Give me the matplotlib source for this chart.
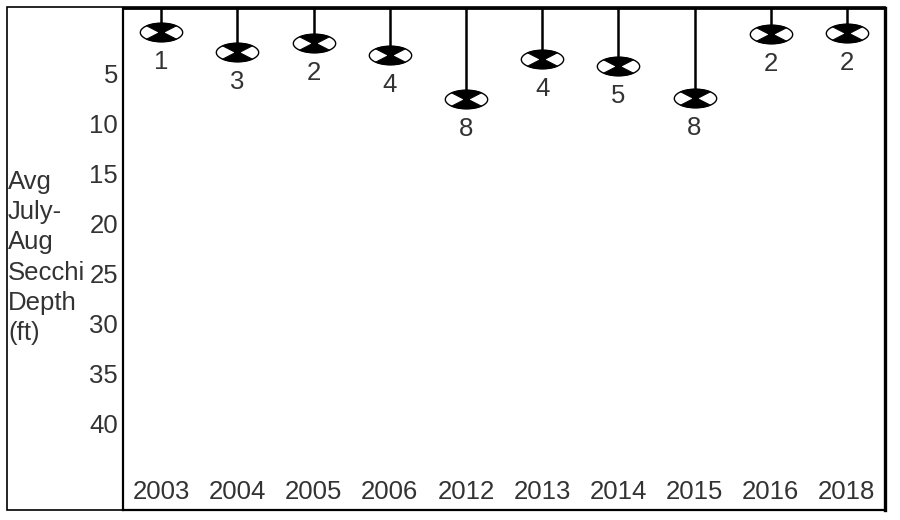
import numpy as np
import matplotlib
matplotlib.use("Agg")
import matplotlib.pyplot as plt
from matplotlib.path import Path
from matplotlib.patches import Rectangle

plt.rcParams['font.family'] = ['Liberation Sans', 'DejaVu Sans']

# data
years = ['2003', '2004', '2005', '2006', '2012', '2013', '2014', '2015', '2016', '2018']
depth = [0.85, 2.85, 1.95, 3.15, 7.55, 3.55, 4.25, 7.45, 1.1, 0.95]
depth_labels = ['1', '3', '2', '4', '8', '4', '5', '8', '2', '2']
yticks = [5, 10, 15, 20, 25, 30, 35, 40]

txt = '#333333'
fs = 18.5

# secchi disk marker: white ellipse + black top/bottom sectors
ry = 0.44
t = np.linspace(0, 2 * np.pi, 73)
ell = Path(np.column_stack([np.cos(t), ry * np.sin(t)]), closed=True)

def sector(a0, a1, waist=0.1):
    a = np.radians(np.linspace(a0, a1, 20))
    v = np.column_stack([np.cos(a), ry * np.sin(a)])
    s = np.sign(np.sin(a[10]))
    return np.vstack([[waist * s, 0], v, [-waist * s, 0], [waist * s, 0]])

v1 = sector(45, 135)
v2 = sector(225, 315)
verts = np.vstack([v1, v2])
codes = ([Path.MOVETO] + [Path.LINETO] * (len(v1) - 2) + [Path.CLOSEPOLY]) * 2
hourglass = Path(verts, codes)
ms = 30.5
ms_h = ms * np.max(np.abs(verts))

fig = plt.figure(figsize=(9, 5.2), dpi=100)
ax = fig.add_axes([123 / 900, 1 - 510 / 520, 762 / 900, 502 / 520])

x = np.arange(len(years))
ax.set_xlim(-0.5, len(years) - 0.5)
ax.set_ylim(48.65, -1.55)
top = ax.get_ylim()[1]

ax.vlines(x, top, depth, color='black', lw=1.8, zorder=2)
ax.plot(x, depth, ls='none', marker=ell, ms=ms, mfc='white', mec='black', mew=1.0, zorder=3)
ax.plot(x, depth, ls='none', marker=hourglass, ms=ms_h, mfc='black', mec='black', mew=0.6, zorder=4)

for xi, d, lab in zip(x, depth, depth_labels):
    ax.annotate(lab, (xi, d), xytext=(0, -21.5), textcoords='offset points',
                ha='center', va='center', fontsize=fs, color=txt)

ax.set_xticks(x, years)
ax.set_yticks(yticks, [str(v) for v in yticks])
ax.tick_params(axis='x', length=0, pad=-21.5, labelsize=fs, labelcolor=txt)
ax.tick_params(axis='y', length=0, pad=3.5, labelsize=fs, labelcolor=txt)
for s in ax.spines.values():
    s.set_linewidth(1.6)
ax.spines['top'].set_linewidth(2.0)
ax.spines['right'].set_linewidth(2.4)

fig.text(8 / 900, 0.505, 'Avg\nJuly-\nAug\nSecchi\nDepth\n(ft)', ha='left', va='center',
         fontsize=fs, color=txt, linespacing=1.33)

fig.patches.append(Rectangle((7 / 900, 1 - 510 / 520), 878 / 900, 503 / 520,
                             transform=fig.transFigure, fill=False, ec='black', lw=1.2))

fig.savefig('out.png', dpi=100)
